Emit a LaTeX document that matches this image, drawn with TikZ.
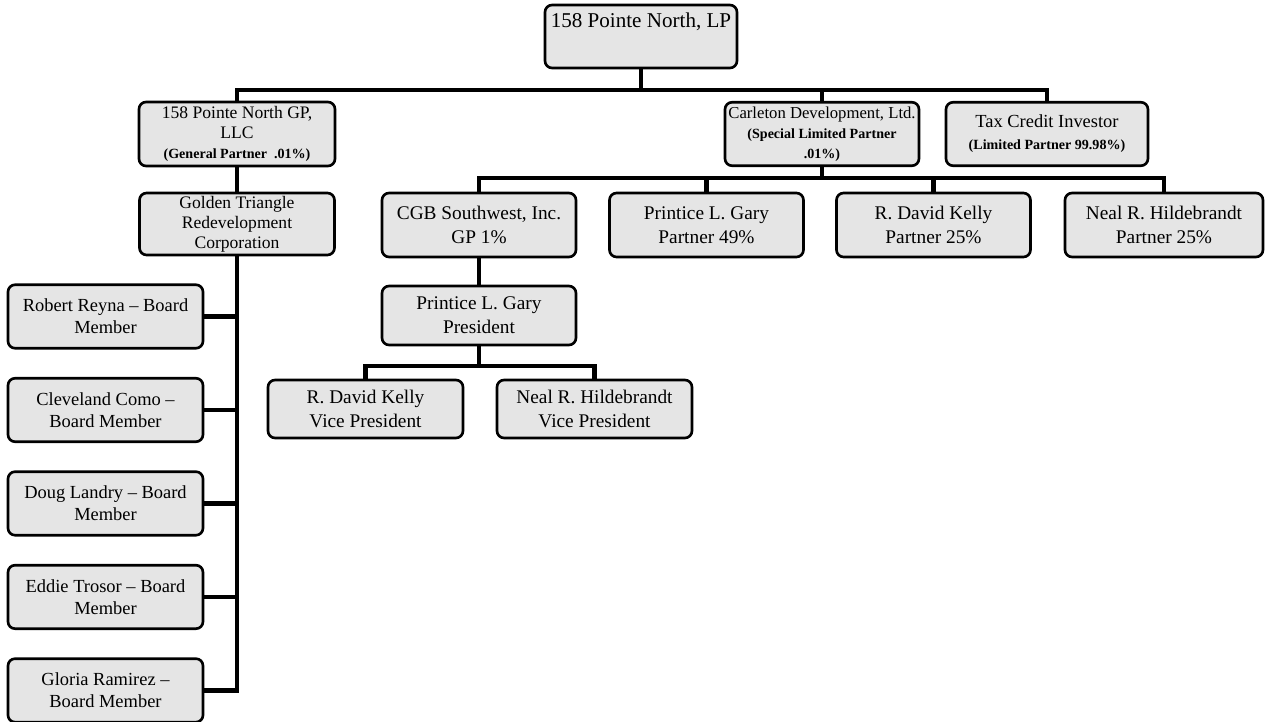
\documentclass[tikz,border=0pt]{standalone}
\usepackage{fontspec}
\setmainfont{Liberation Serif}
\usepackage{tikz}
\usetikzlibrary{positioning}

\begin{document}
\begin{tikzpicture}[x=0.02cm, y=-0.02cm, node distance=1.87cm]
	\tikzstyle{box} = [rectangle, rounded corners=4pt, draw=black, line width=1.5pt, fill=black!10, text centered, align=center, inner sep=1pt, minimum width=3.88cm, minimum height=1.27cm, font=\fontsize{10.5}{12.5}\selectfont]
	\tikzstyle{bigbox} = [box, font=\fontsize{11}{13.5}\selectfont]
	\tikzstyle{tightbox} = [box, font=\fontsize{10}{11.5}\selectfont]
	\tikzstyle{line}  = [line width=2.4pt, line cap=rect]

	\useasboundingbox (0,0) rectangle (1265,721);

	\node[box, font=\fontsize{12}{14}\selectfont, minimum width=3.84cm, minimum height=1.26cm](lp) at (641,36.5){158 Pointe North, LP\\[5pt]\mbox{}};

	\node[tightbox, minimum width=3.92cm, minimum height=1.28cm](gp) at (237,134){158 Pointe North GP,\\ LLC\\ {\footnotesize\bfseries (General Partner \ .01\%)}};
	\node[box, font=\fontsize{9.5}{11.5}\selectfont](carleton) at (822,134){Carleton Development, Ltd.\\ {\footnotesize\bfseries (Special Limited Partner}\\ {\footnotesize\bfseries .01\%)}};
	\node[box, minimum width=4.04cm](tax) at (1047,134){Tax Credit Investor\\ {\footnotesize\bfseries (Limited Partner 99.98\%)}};

	\coordinate (topbus) at (641,90);
	\draw[line] (lp) -- (topbus);
	\draw[line] (gp.north) |- (topbus) -| (tax.north);
	\draw[line] (carleton.north) -- (carleton.north |- topbus);

	\node[tightbox, minimum width=3.9cm, minimum height=1.24cm](golden) at (237,224){Golden Triangle\\ Redevelopment\\ Corporation};
	\draw[line] (gp) -- (golden);

	% board members
	\node[box, minimum width=3.9cm](reyna) at (105.5,316.5){Robert Reyna – Board\\ Member};
	\node[box, minimum width=3.9cm, below of=reyna](como){Cleveland Como –\\ Board Member};
	\node[box, minimum width=3.9cm, below of=como](landry){Doug Landry – Board\\ Member};
	\node[box, minimum width=3.9cm, below of=landry](trosor){Eddie Trosor – Board\\ Member};
	\node[box, minimum width=3.9cm, below of=trosor](ramirez){Gloria Ramirez –\\ Board Member};

	\draw[line] (golden.south) |- (ramirez.east);
	\foreach \b in {reyna, como, landry, trosor}
		\draw[line] (\b.east) -- (\b.east -| golden.south);

	% partners of carleton
	\node[bigbox, minimum height=1.28cm](cgb) at (479,225){CGB Southwest, Inc.\\ GP 1\%};
	\node[bigbox, minimum height=1.28cm](gary) at (706.5,225){Printice L. Gary\\ Partner 49\%};
	\node[bigbox, minimum height=1.28cm](kelly) at (933.5,225){R. David Kelly\\ Partner 25\%};
	\node[bigbox, minimum width=3.96cm, minimum height=1.28cm](neal) at (1164,225){Neal R. Hildebrandt\\ Partner 25\%};

	\coordinate (midbus) at (822,178);
	\draw[line] (carleton) -- (midbus);
	\draw[line] (cgb.north) |- (midbus) -| (neal.north);
	\draw[line] (gary.north) -- (gary.north |- midbus);
	\draw[line] (kelly.north) -- (kelly.north |- midbus);

	% officers of cgb
	\node[bigbox, minimum height=1.18cm](pres) at (479,315.5){Printice L. Gary\\ President};
	\draw[line] (cgb) -- (pres);

	\node[bigbox, minimum width=3.9cm, minimum height=1.16cm](vpkelly) at (365.5,409){R. David Kelly\\ Vice President};
	\node[bigbox, minimum width=3.9cm, minimum height=1.16cm](vpneal) at (594.5,409){Neal R. Hildebrandt\\ Vice President};

	\coordinate (vpbus) at (479,366);
	\draw[line] (pres) -- (vpbus);
	\draw[line] (vpkelly.north) |- (vpbus) -| (vpneal.north);

\end{tikzpicture}
\end{document}
